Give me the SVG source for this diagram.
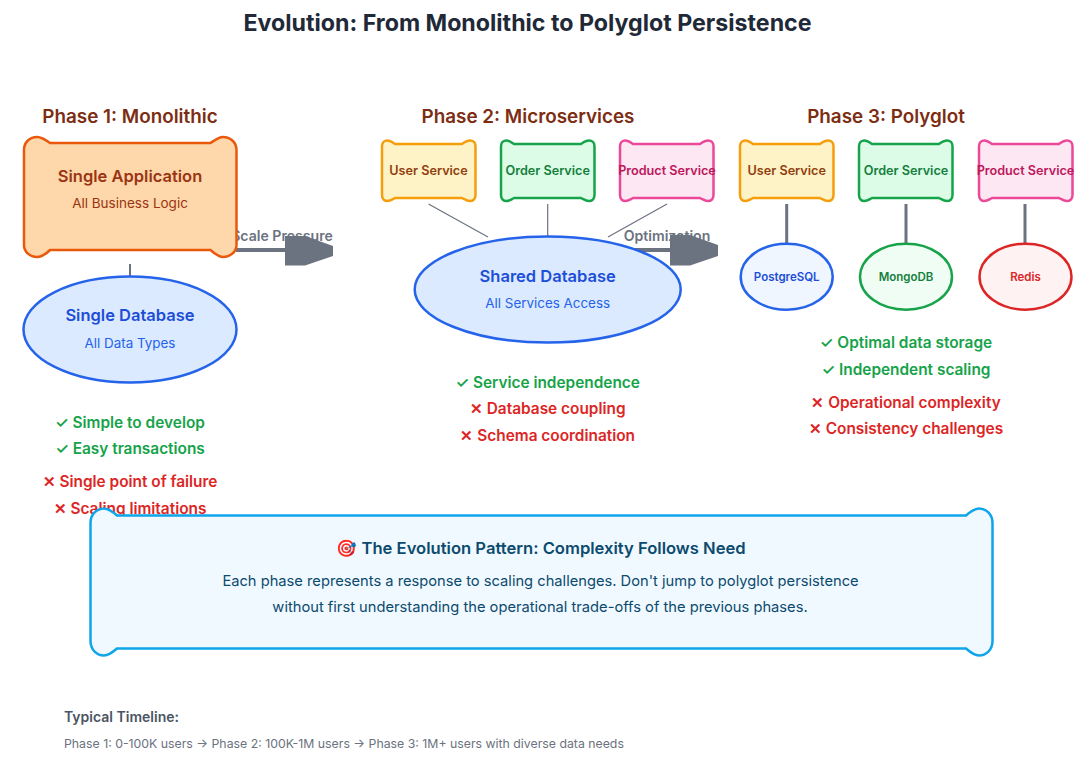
<svg xmlns="http://www.w3.org/2000/svg" width="1092" height="768" viewBox="0 0 1092 768">
<style>
text{font-family:Inter,"Noto Sans",sans-serif;text-anchor:middle}
.ph{font-size:18.850px;font-weight:600;fill:#7c2d12}
.sv{font-size:12.650px;font-weight:600}
.bx{stroke-width:2.500}
.us{fill:#fef3c7;stroke:#f59e0b}.ust{fill:#92400e}
.os{fill:#dcfce7;stroke:#16a34a}.ost{fill:#15803d}
.ps{fill:#fce7f3;stroke:#ec4899}.pst{fill:#be185d}
.t{font-size:15.400px;font-weight:600}
.g{fill:#16a34a}.r{fill:#dc2626}
.db{fill:#dbeafe;stroke:#2563eb;stroke-width:2.500}
.c{stroke:#6b7280;fill:none}
.dbt{font-size:16.500px;font-weight:600;fill:#1d4ed8}
.dbs{font-size:13.400px;fill:#2563eb}
.sm{font-size:11.500px;font-weight:600}
.al{font-size:14.100px;font-weight:600;fill:#6b7280}
</style>
<defs>
<path id="sb" d="M13 4H80C83 2 85 0.500 88 0.500C91 0.500 93.500 2.500 93.500 6V55C93.500 59 91 61 88 61C85 61 83 59.500 80 58H13C10 59.500 8 61 5.500 61C2.500 61 0 59 0 55V6C0 2.500 2.500 0.500 5.500 0.500C8 0.500 10 2 13 4Z"/>
</defs>
<rect width="1092" height="768" fill="#fff"/>
<text x="527.500" y="31" font-size="23.200" font-weight="700" fill="#1f2937">Evolution: From Monolithic to Polyglot Persistence</text>
<text class="ph" x="130" y="123">Phase 1: Monolithic</text>
<text class="ph" x="528" y="123">Phase 2: Microservices</text>
<text class="ph" x="886" y="123">Phase 3: Polyglot</text>

<g id="labels">
<text class="al" x="282" y="241">Scale Pressure</text>
<text class="al" x="667" y="241">Optimization</text>
</g>
<g id="connectors">
<path class="c" stroke-width="2" d="M130 264V277"/>
<path class="c" stroke-width="1.200" d="M428.500 204L488 237M667 204L608 237"/>
<path class="c" stroke-width="1.200" d="M547.700 204V237"/>
<path class="c" stroke-width="3" d="M786.700 204V244M906 204V244M1025 204V244"/>
<path class="c" stroke-width="4" d="M236 250H286M621 250H671"/>
<path fill="#6b7280" d="M285 236H305L333 246V256L305 265.500H285Z"/>
<path fill="#6b7280" d="M670 235H690L718 245V256L690 265.500H670Z"/>
</g>

<g id="app">
<path d="M50 143H210.500C215 140 219 137 223 137C230 137 236.500 142 236.500 150V245C236.500 252 230 257 223 257C219 257 215 254 210.500 250H50C46 254 42 257 37 257C30 257 24 252 24 245V150C24 142 30 137 37 137C42 137 46 140 50 143Z" fill="#fed7aa" stroke="#ea580c" stroke-width="2.500"/>
<text x="130" y="182" font-size="16.500" font-weight="600" fill="#9a3412">Single Application</text>
<text x="130" y="208" font-size="13.500" fill="#9a3412">All Business Logic</text>
</g>
<g id="single-db">
<ellipse class="db" cx="130" cy="329.500" rx="106.500" ry="53"/>
<text class="dbt" x="130" y="321">Single Database</text>
<text class="dbs" x="130" y="347.500">All Data Types</text>
</g>
<g id="p2-user"><use href="#sb" class="bx us" x="382" y="140"/><text class="sv ust" x="428.500" y="174.500">User Service</text></g>
<g id="p2-order"><use href="#sb" class="bx os" x="501" y="140"/><text class="sv ost" x="547.700" y="174.500">Order Service</text></g>
<g id="p2-product"><use href="#sb" class="bx ps" x="620" y="140"/><text class="sv pst" x="667" y="174.500">Product Service</text></g>
<g id="shared-db">
<ellipse class="db" cx="547.700" cy="289.500" rx="133" ry="53"/>
<text class="dbt" x="547.700" y="281.500">Shared Database</text>
<text class="dbs" x="547.700" y="307.500">All Services Access</text>
</g>
<g id="p3-user"><use href="#sb" class="bx us" x="740" y="140"/><text class="sv ust" x="786.700" y="174.500">User Service</text></g>
<g id="p3-order"><use href="#sb" class="bx os" x="859" y="140"/><text class="sv ost" x="906" y="174.500">Order Service</text></g>
<g id="p3-product"><use href="#sb" class="bx ps" x="979" y="140"/><text class="sv pst" x="1025.500" y="174.500">Product Service</text></g>
<g id="postgres"><ellipse cx="786.700" cy="276.700" rx="46" ry="33" fill="#eff6ff" stroke="#2563eb" stroke-width="2.500"/><text class="sm" x="786.700" y="280.500" fill="#1d4ed8">PostgreSQL</text></g>
<g id="mongo"><ellipse cx="906" cy="276.700" rx="46" ry="33" fill="#f0fdf4" stroke="#16a34a" stroke-width="2.500"/><text class="sm" x="906" y="280.500" fill="#15803d">MongoDB</text></g>
<g id="redis"><ellipse cx="1025.500" cy="276.700" rx="46" ry="33" fill="#fef2f2" stroke="#dc2626" stroke-width="2.500"/><text class="sm" x="1025.500" y="280.500" fill="#dc2626">Redis</text></g>

<g id="phase1-notes">
<text class="t g" x="130" y="427.500">✓ Simple to develop</text>
<text class="t g" x="130" y="453.500">✓ Easy transactions</text>
<text class="t r" x="130" y="486.500">✕ Single point of failure</text>
<text class="t r" x="130" y="513.500">✕ Scaling limitations</text>
</g>
<g id="phase2-notes">
<text class="t g" x="547.700" y="387.500">✓ Service independence</text>
<text class="t r" x="547.700" y="413.500">✕ Database coupling</text>
<text class="t r" x="547.700" y="440.500">✕ Schema coordination</text>
</g>
<g id="phase3-notes">
<text class="t g" x="906" y="347.500">✓ Optimal data storage</text>
<text class="t g" x="906" y="374.500">✓ Independent scaling</text>
<text class="t r" x="906" y="407.500">✕ Operational complexity</text>
<text class="t r" x="906" y="433.500">✕ Consistency challenges</text>
</g>
<g id="pattern">
<path d="M117 515.500H966C970 512 975 508.500 979 508.500C986 508.500 992.500 514 992.500 523V641C992.500 650 986 655.500 979 655.500C975 655.500 970 652 966 648.500H117C113 652 108 655.500 104 655.500C97 655.500 90.500 650 90.500 641V523C90.500 514 97 508.500 104 508.500C108 508.500 113 512 117 515.500Z" fill="#f0f9ff" stroke="#0ea5e9" stroke-width="2.500"/>
<text x="541" y="553.500" font-size="16.600" font-weight="600" fill="#0c4a6e">🎯 The Evolution Pattern: Complexity Follows Need</text>
<text x="540.500" y="586" font-size="14.700" fill="#0c4a6e">Each phase represents a response to scaling challenges. Don't jump to polyglot persistence</text>
<text x="540" y="612" font-size="14.700" fill="#0c4a6e">without first understanding the operational trade-offs of the previous phases.</text>
</g>
<g id="timeline">
<text x="64" y="721.500" font-size="14" font-weight="600" fill="#4b5563" style="text-anchor:start">Typical Timeline:</text>
<text x="64" y="748" font-size="12.300" fill="#6b7280" style="text-anchor:start">Phase 1: 0-100K users → Phase 2: 100K-1M users → Phase 3: 1M+ users with diverse data needs</text>
</g>
</svg>
